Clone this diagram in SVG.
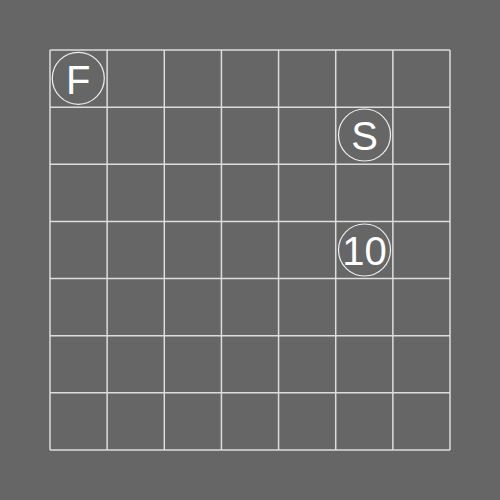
<svg xmlns="http://www.w3.org/2000/svg" width="500" height="500" viewBox="0 0 500 500">
<style>
.grid line{stroke:#dddddd;stroke-width:1.5}
.node circle{fill:none;stroke:#eeeeee;stroke-width:1.2}
.node text{fill:#ffffff;font-family:"Liberation Sans",Arial,sans-serif;font-size:40px;text-anchor:middle;dominant-baseline:central}
</style>
<rect width="500" height="500" fill="#666666"/>
<g id="connectors" class="grid">
<line x1="50" y1="50" x2="450" y2="50"/>
<line x1="50" y1="107.14" x2="450" y2="107.14"/>
<line x1="50" y1="164.29" x2="450" y2="164.29"/>
<line x1="50" y1="221.43" x2="450" y2="221.43"/>
<line x1="50" y1="278.57" x2="450" y2="278.57"/>
<line x1="50" y1="335.71" x2="450" y2="335.71"/>
<line x1="50" y1="392.86" x2="450" y2="392.86"/>
<line x1="50" y1="450" x2="450" y2="450"/>
<line x1="50" y1="50" x2="50" y2="450"/>
<line x1="107.14" y1="50" x2="107.14" y2="450"/>
<line x1="164.29" y1="50" x2="164.29" y2="450"/>
<line x1="221.43" y1="50" x2="221.43" y2="450"/>
<line x1="278.57" y1="50" x2="278.57" y2="450"/>
<line x1="335.71" y1="50" x2="335.71" y2="450"/>
<line x1="392.86" y1="50" x2="392.86" y2="450"/>
<line x1="450" y1="50" x2="450" y2="450"/>
</g>
<g id="node-F" class="node"><circle cx="78.3" cy="78.3" r="26"/><text x="78.3" y="79.5">F</text></g>
<g id="node-S" class="node"><circle cx="364.5" cy="135" r="26"/><text x="364.5" y="136.2">S</text></g>
<g id="node-10" class="node"><circle cx="364.5" cy="250" r="26"/><text x="364.5" y="251.2">10</text></g>
</svg>
